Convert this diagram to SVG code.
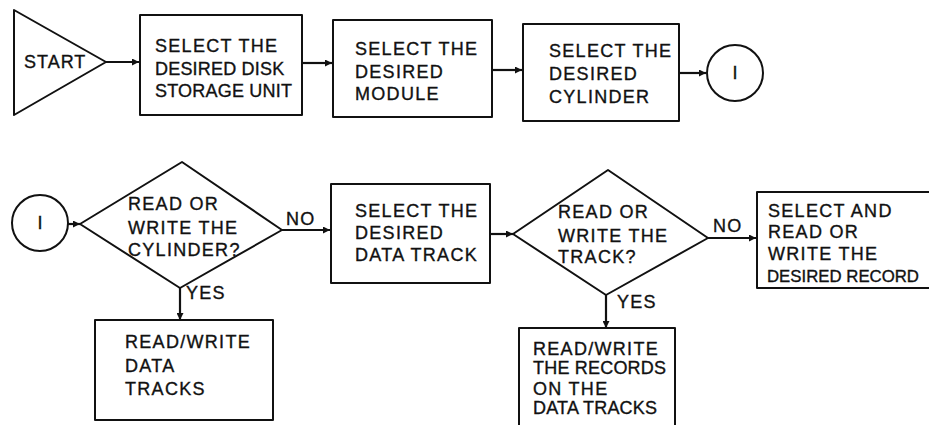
<svg xmlns="http://www.w3.org/2000/svg" width="929" height="425" viewBox="0 0 929 425">
  <style>
    .shape { fill: #fff; stroke: #111; stroke-width: 2; stroke-linejoin: round; }
    .wire { fill: none; stroke: #111; stroke-width: 2.2; }
    .lbl { font-family: "Liberation Sans", Arial, sans-serif; font-size: 18px; letter-spacing: 1.3px; fill: #111; stroke: #111; stroke-width: 0.35; }
    .tight { letter-spacing: 0.2px; }
    .mark { letter-spacing: 0; text-anchor: middle; }
  </style>
  <defs>
    <marker id="arrow" viewBox="0 0 10 10" refX="10" refY="5" markerWidth="9" markerHeight="7" markerUnits="userSpaceOnUse" orient="auto">
      <path d="M0,0 L10,5 L0,10 z" fill="#111"/>
    </marker>
  </defs>
  <rect width="929" height="425" fill="#fff"/>

  <!-- connectors -->
  <g id="connectors">
    <line class="wire" x1="106" y1="62" x2="139" y2="62" marker-end="url(#arrow)"/>
    <line class="wire" x1="302" y1="63" x2="332" y2="63" marker-end="url(#arrow)"/>
    <line class="wire" x1="492" y1="70" x2="522" y2="70" marker-end="url(#arrow)"/>
    <line class="wire" x1="679" y1="73" x2="706" y2="73" marker-end="url(#arrow)"/>
    <line class="wire" x1="68" y1="224" x2="80" y2="224" marker-end="url(#arrow)"/>
    <line class="wire" x1="282" y1="230" x2="330" y2="230" marker-end="url(#arrow)"/>
    <line class="wire" x1="490" y1="234" x2="513" y2="234" marker-end="url(#arrow)"/>
    <line class="wire" x1="708" y1="238" x2="756" y2="238" marker-end="url(#arrow)"/>
    <line class="wire" x1="180" y1="288" x2="180" y2="320" marker-end="url(#arrow)"/>
    <line class="wire" x1="606" y1="295" x2="606" y2="328" marker-end="url(#arrow)"/>
    <text class="lbl" x="286" y="225">NO</text>
    <text class="lbl" x="713" y="232">NO</text>
    <text class="lbl" x="186" y="299">YES</text>
    <text class="lbl" x="617" y="308">YES</text>
  </g>

  <!-- top row -->
  <g id="start">
    <polygon class="shape" points="14,10 106,62 14,115"/>
    <text class="lbl" x="24" y="68" style="letter-spacing:1px">START</text>
  </g>
  <g id="select-unit">
    <rect class="shape" x="140" y="15" width="162" height="100"/>
    <text class="lbl" x="155" y="52">SELECT THE</text>
    <text class="lbl tight" x="155" y="75">DESIRED DISK</text>
    <text class="lbl tight" x="155" y="97">STORAGE UNIT</text>
  </g>
  <g id="select-module">
    <rect class="shape" x="333" y="20" width="159" height="97"/>
    <text class="lbl" x="355" y="55">SELECT THE</text>
    <text class="lbl" x="355" y="78">DESIRED</text>
    <text class="lbl" x="355" y="100">MODULE</text>
  </g>
  <g id="select-cylinder">
    <rect class="shape" x="523" y="24" width="156" height="97"/>
    <text class="lbl" x="549" y="57">SELECT THE</text>
    <text class="lbl" x="549" y="80">DESIRED</text>
    <text class="lbl" x="549" y="103">CYLINDER</text>
  </g>
  <g id="connector-out">
    <circle class="shape" cx="735" cy="73" r="28"/>
    <text class="lbl mark" x="735" y="79">I</text>
  </g>

  <!-- bottom row -->
  <g id="connector-in">
    <circle class="shape" cx="40" cy="223" r="28"/>
    <text class="lbl mark" x="40" y="229">I</text>
  </g>
  <g id="decide-cylinder">
    <polygon class="shape" points="80,224 182,162 282,230 180,288"/>
    <text class="lbl" x="128" y="210">READ OR</text>
    <text class="lbl" x="128" y="234">WRITE THE</text>
    <text class="lbl" x="128" y="256">CYLINDER?</text>
  </g>
  <g id="select-track">
    <rect class="shape" x="331" y="184" width="159" height="99"/>
    <text class="lbl" x="355" y="217">SELECT THE</text>
    <text class="lbl" x="355" y="239">DESIRED</text>
    <text class="lbl" x="355" y="261">DATA TRACK</text>
  </g>
  <g id="decide-track">
    <polygon class="shape" points="513,234 608,170 708,238 606,295"/>
    <text class="lbl" x="558" y="218">READ OR</text>
    <text class="lbl" x="558" y="242">WRITE THE</text>
    <text class="lbl" x="558" y="263">TRACK?</text>
  </g>
  <g id="select-record">
    <!-- box runs on past the right edge, so only three sides are drawn -->
    <path class="shape" d="M929,192 H757 V288 H929"/>
    <text class="lbl" x="768" y="217">SELECT AND</text>
    <text class="lbl" x="768" y="238">READ OR</text>
    <text class="lbl" x="768" y="260">WRITE THE</text>
    <text class="lbl" x="767" y="282" style="font-size:17px;letter-spacing:0" textLength="152" lengthAdjust="spacingAndGlyphs">DESIRED RECORD</text>
  </g>
  <g id="rw-tracks">
    <rect class="shape" x="95" y="320" width="178" height="100"/>
    <text class="lbl" x="125" y="348">READ/WRITE</text>
    <text class="lbl" x="125" y="372">DATA</text>
    <text class="lbl" x="125" y="395">TRACKS</text>
  </g>
  <g id="rw-records">
    <path class="shape" d="M519,426 V328 H675 V426"/>
    <text class="lbl" x="533" y="355">READ/WRITE</text>
    <text class="lbl tight" x="533" y="374">THE RECORDS</text>
    <text class="lbl" x="533" y="395">ON THE</text>
    <text class="lbl tight" x="533" y="414">DATA TRACKS</text>
  </g>
</svg>
